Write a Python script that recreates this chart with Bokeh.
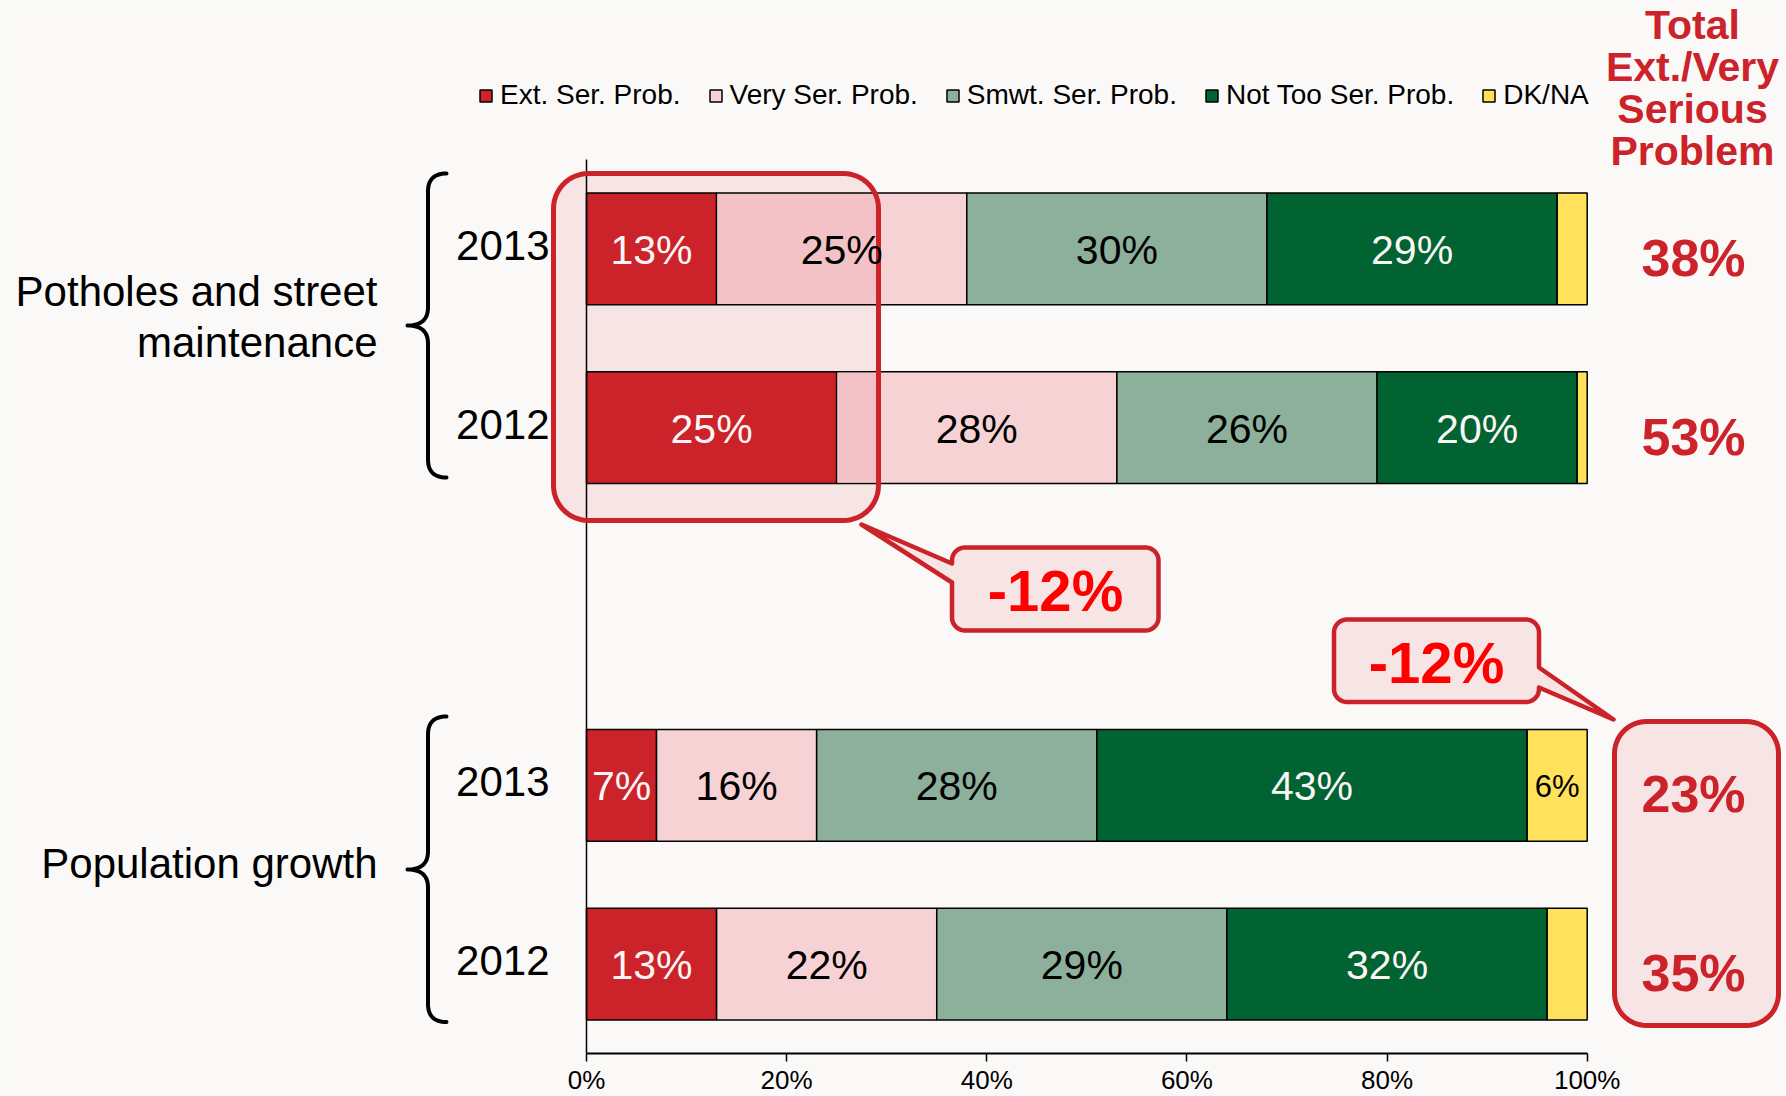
import numpy as np
from bokeh.plotting import figure
from bokeh.models import (ColumnDataSource, Legend, LegendItem, FixedTicker,
                          PrintfTickFormatter, Range1d)
from bokeh.core.properties import value
from bokeh.embed import file_html
from bokeh.resources import INLINE

# ---------------- data ----------------
groups = ["Potholes and street\nmaintenance", "Population growth"]
years = ["2013", "2012", "2013", "2012"]
row_pos = [4, 3, 1, 0]          # slot of each bar (2 groups, one empty slot between)
series = ["Ext. Ser. Prob.", "Very Ser. Prob.", "Smwt. Ser. Prob.",
          "Not Too Ser. Prob.", "DK/NA"]
ext = [13, 25, 7, 13]
very = [25, 28, 16, 22]
smwt = [30, 26, 28, 29]
nottoo = [29, 20, 43, 32]
dkna = [3, 1, 6, 4]
change_labels = ["-12%", "-12%"]
header_lines = ["Total", "Ext./Very", "Serious", "Problem"]
x_ticks = [0, 20, 40, 60, 80, 100]

colors = ["#CC2229", "#F6D2D5", "#8CB09C", "#006331", "#FFE15B"]
label_colors = ["#FBF6F6", "#000000", "#000000", "#FBF6F6"]
RED = "#CC2229"
BG = "#FAF9F7"
BOX_FILL = "#F7E4E5"
TINT = "#F2C2C6"
FONT = value("Liberation Sans")

# ---------------- layout ----------------
W, H = 1786, 1096
X0, PXX = 586.0, 10.007      # px of 0 %, px per %
Y0, PXY = 963.6, 178.8       # px of slot 0 centre, px per slot
BAR_H = 0.625


def X(rx):
    return (rx - X0) / PXX


def Y(ry):
    return (Y0 - ry) / PXY


def dy(px):
    return px / PXY


def dx(px):
    return px / PXX


p = figure(width=W, height=H,
           x_range=Range1d(-X0 / PXX, (W - X0) / PXX),
           y_range=Range1d((Y0 - H) / PXY, Y0 / PXY),
           output_backend="svg", toolbar_location=None,
           min_border_left=0, min_border_right=0, min_border_top=0,
           min_border_bottom=0, y_axis_location=None,
           background_fill_color=BG, border_fill_color=BG,
           outline_line_color=None)
p.grid.visible = False

# x axis (drawn at the bottom of the category band)
ax = p.xaxis[0]
ax.fixed_location = Y(1053)
ax.bounds = (0, 100)
ax.ticker = FixedTicker(ticks=x_ticks)
ax.formatter = PrintfTickFormatter(format="%d%%")
ax.minor_tick_line_color = None
ax.major_tick_in = 0
ax.major_tick_out = 8
ax.major_tick_line_width = 1.5
ax.axis_line_width = 2
ax.axis_line_color = "black"
ax.major_tick_line_color = "black"
ax.major_label_standoff = 3
ax.major_label_text_font = "Liberation Sans"
ax.major_label_text_font_size = "26px"
ax.major_label_text_color = "black"


# ---------------- helpers for shapes ----------------
def rrect(x0, y0, x1, y1, r, ptr=None, n=14):
    pts = []

    def arc(cx, cy, a0, a1):
        for t in np.linspace(a0, a1, n):
            pts.append((cx + r * np.cos(t), cy + r * np.sin(t)))
    arc(x0 + r, y0 + r, np.pi, 1.5 * np.pi)
    arc(x1 - r, y0 + r, 1.5 * np.pi, 2 * np.pi)
    if ptr and ptr[0] == "right":
        _, ya, yb, tip = ptr
        pts += [(x1, ya), tip, (x1, yb)]
    arc(x1 - r, y1 - r, 0, 0.5 * np.pi)
    arc(x0 + r, y1 - r, 0.5 * np.pi, np.pi)
    if ptr and ptr[0] == "left":
        _, ya, yb, tip = ptr
        pts += [(x0, yb), tip, (x0, ya)]
    return [X(a) for a, b in pts], [Y(b) for a, b in pts]


def brace(top, bottom, tip, xs=427.5, xh=446, xt=407, c=18, n=16):
    t = np.linspace(0, 1, n)

    def qb(p0, p1, p2):
        return [((1 - u) ** 2 * p0[0] + 2 * (1 - u) * u * p1[0] + u ** 2 * p2[0],
                 (1 - u) ** 2 * p0[1] + 2 * (1 - u) * u * p1[1] + u ** 2 * p2[1]) for u in t]
    pts = []
    pts += qb((xh, top), (xs, top), (xs, top + c))
    pts += qb((xs, tip - c), (xs, tip), (xt, tip))
    pts += qb((xt, tip), (xs, tip), (xs, tip + c))
    pts += qb((xs, bottom - c), (xs, bottom), (xh, bottom))
    return [X(a) for a, b in pts], [Y(b) for a, b in pts]


# box 1 (around Ext. values of potholes) - underlay
B1 = (553, 173, 878, 520)
b1x, b1y = rrect(*B1, 35)
p.patch(b1x, b1y, fill_color=BOX_FILL, line_color=None)

# box 2 (around totals of population growth)
B2 = (1614, 721, 1778, 1025)
b2x, b2y = rrect(*B2, 32)
p.patch(b2x, b2y, fill_color=BOX_FILL, line_color=RED, line_width=5)

# ---------------- bars ----------------
src = ColumnDataSource(dict(y=row_pos, ext=ext, very=very, smwt=smwt,
                            nottoo=nottoo, dkna=dkna))
rs = p.hbar_stack(["ext", "very", "smwt", "nottoo", "dkna"], y="y",
                  height=BAR_H, fill_color=colors, line_color="black",
                  line_width=1.5, source=src)

# tint of the "very" segments lying inside box 1
bx0, bx1 = X(B1[0] + 2.5), X(B1[2] - 2.5)
tl, tr, tb, tt = [], [], [], []
for i, r in enumerate(row_pos[:2]):
    lo, hi = max(ext[i], bx0), min(ext[i] + very[i], bx1)
    if hi > lo:
        tl.append(lo + dx(0.8)); tr.append(hi)
        tb.append(r - BAR_H / 2 + dy(1)); tt.append(r + BAR_H / 2 - dy(1))
p.quad(left=tl, right=tr, bottom=tb, top=tt, fill_color=TINT, line_color=None)

# vertical category axis line at 0 %
p.segment(x0=[0], y0=[-0.5], x1=[0], y1=[4.5], line_color="black", line_width=1.5)

# outline of box 1
p.patch(b1x, b1y, fill_color=None, line_color=RED, line_width=5)

# ---------------- bar labels ----------------
lx, ly, lt, lc = [], [], [], []
for i, r in enumerate(row_pos):
    left = 0
    for j, v in enumerate([ext[i], very[i], smwt[i], nottoo[i]]):
        lx.append(left + v / 2)
        ly.append(r - dy(1))
        lt.append(f"{v}%")
        lc.append(label_colors[j])
        left += v
p.text(x=lx, y=ly, text=lt, text_color=lc, text_font=FONT,
       text_font_size="41px", text_align="center", text_baseline="middle")

dkx, dky, dkt = [], [], []
for i, r in enumerate(row_pos):
    if dkna[i] >= 5:
        dkx.append(100 - dkna[i] / 2)
        dky.append(r - dy(1))
        dkt.append(f"{dkna[i]}%")
p.text(x=dkx, y=dky, text=dkt, text_color="black", text_font=FONT,
       text_font_size="31px", text_align="center", text_baseline="middle")

# totals
totals = [f"{e + v}%" for e, v in zip(ext, very)]
p.text(x=[X(1693)] * len(totals), y=[r - dy(9) for r in row_pos], text=totals,
       text_color=RED, text_font=FONT, text_font_style="bold",
       text_font_size="52px", text_align="center", text_baseline="middle")

# header of totals column
p.text(x=[X(1692)] * len(header_lines), y=[Y(c) for c in [24, 66, 108, 150]],
       text=header_lines, text_color=RED, text_font=FONT, text_font_style="bold",
       text_font_size="41px", text_align="center", text_baseline="middle")

# years
p.text(x=[X(549)] * len(years), y=[r + dy(3.5) for r in row_pos], text=years,
       text_color="black", text_font=FONT, text_font_size="42px",
       text_align="right", text_baseline="middle")

# group labels
g_lines, g_y = [], []
for line, c in zip(groups[0].split("\n"), [291, 342]):
    g_lines.append(line); g_y.append(Y(c))
g_lines.append(groups[1]); g_y.append(Y(863))
p.text(x=[X(377)] * len(g_lines), y=g_y, text=g_lines, text_color="black",
       text_font=FONT, text_font_size="42px", text_align="right",
       text_baseline="middle")

# braces
for top, bot, tip in [(173, 477, 325), (716, 1021.5, 869)]:
    bx, by = brace(top, bot, tip)
    p.line(bx, by, line_color="black", line_width=4, line_join="round", line_cap="round")

# callouts
c1x, c1y = rrect(951.5, 547, 1158, 630, 13, ptr=("left", 563, 582, (861, 524)))
p.patch(c1x, c1y, fill_color=BOX_FILL, line_color=RED, line_width=4.5, line_join="round")
c2x, c2y = rrect(1333.5, 619, 1538.5, 701.5, 13, ptr=("right", 667, 687, (1613, 719)))
p.patch(c2x, c2y, fill_color=BOX_FILL, line_color=RED, line_width=4.5, line_join="round")
p.text(x=[X(1055), X(1436)], y=[Y(590), Y(662)], text=change_labels,
       text_color="#FF0000", text_font=FONT, text_font_style="bold",
       text_font_size="58px", text_align="center", text_baseline="middle")

# legend
legend = Legend(items=[LegendItem(label=s, renderers=[r]) for s, r in zip(series, rs)],
                location=(478, H - 111), orientation="horizontal",
                glyph_width=15, glyph_height=15, label_standoff=7, spacing=27,
                padding=0, margin=0, border_line_color=None,
                background_fill_alpha=0, label_text_font="Liberation Sans",
                label_text_font_size="28px", label_text_color="black")
p.add_layout(legend, "center")

open("out.html", "w").write(file_html(p, INLINE))
